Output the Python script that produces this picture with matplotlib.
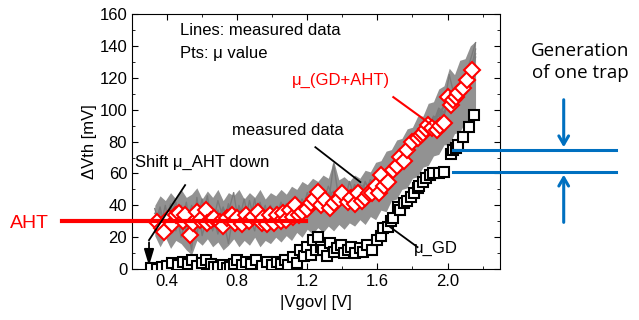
import matplotlib
matplotlib.use('Agg')
import matplotlib.pyplot as plt

plt.rcParams['font.family'] = ['Liberation Sans', 'DejaVu Sans']

# measured traces (gray), common x grid
x_meas = [0.33, 0.36, 0.39, 0.42, 0.45, 0.48, 0.51, 0.54, 0.57, 0.60, 0.63, 0.66, 0.69, 0.72, 0.75, 0.78,
          0.81, 0.84, 0.87, 0.90, 0.93, 0.96, 0.99, 1.02, 1.05, 1.08, 1.11, 1.14, 1.17, 1.20, 1.23, 1.26,
          1.29, 1.32, 1.35, 1.38, 1.41, 1.44, 1.47, 1.50, 1.53, 1.56, 1.59, 1.62, 1.65, 1.68, 1.71, 1.74,
          1.77, 1.80, 1.83, 1.86, 1.89, 1.92, 1.95, 1.98, 2.01, 2.04, 2.07, 2.10, 2.13, 2.16]
# spread of all traces (lower / upper edge of the gray band)
meas_lo = [21, 14, 20, 13, 18, 16, 12, 9, 18, 15, 19, 14, 17, 12, 15, 19, 14, 18, 15, 20, 14, 18, 16, 20,
           17, 21, 18, 23, 20, 25, 22, 26, 23, 27, 24, 28, 25, 29, 27, 31, 28, 33, 31, 37, 36, 43, 44, 50,
           51, 57, 58, 64, 65, 71, 72, 78, 78, 85, 86, 92, 93, 100]
meas_hi = [40, 46, 43, 48, 44, 50, 45, 47, 51, 44, 49, 45, 50, 43, 48, 46, 50, 44, 48, 45, 50, 44, 48, 46,
           50, 47, 52, 50, 55, 53, 57, 55, 59, 57, 68, 56, 58, 55, 59, 57, 62, 61, 67, 68, 74, 75, 81, 82,
           88, 89, 96, 96, 104, 105, 113, 115, 126, 122, 131, 132, 140, 143]
meas_1 = [38, 25, 40, 22, 36, 28, 42, 18, 34, 30, 46, 24, 37, 27, 41, 29, 35, 26, 43, 30, 38, 25, 40, 31,
          42, 33, 39, 45, 36, 48, 40, 50, 42, 52, 44, 47, 40, 55, 45, 52, 47, 56, 50, 62, 58, 66, 61, 72,
          70, 80, 77, 88, 84, 95, 92, 104, 100, 112, 108, 121, 118, 133]
meas_2 = [24, 36, 28, 41, 26, 38, 23, 37, 30, 44, 27, 35, 22, 38, 33, 26, 40, 31, 28, 44, 26, 37, 29, 39,
          28, 41, 34, 36, 44, 38, 46, 39, 49, 41, 47, 50, 43, 46, 52, 45, 55, 48, 58, 55, 63, 59, 70, 66,
          78, 74, 86, 82, 93, 89, 100, 96, 108, 104, 118, 114, 128, 124]
meas_3 = [32, 28, 35, 33, 24, 40, 30, 12, 45, 21, 34, 38, 29, 24, 36, 48, 27, 37, 33, 24, 42, 30, 35, 28,
          38, 30, 42, 33, 40, 44, 37, 48, 41, 46, 49, 42, 52, 44, 50, 46, 54, 51, 52, 59, 56, 64, 63, 69,
          73, 77, 81, 85, 88, 96, 94, 99, 104, 110, 113, 119, 123, 138]
meas_4 = [27, 39, 24, 34, 42, 25, 36, 32, 22, 38, 33, 28, 43, 32, 16, 36, 30, 44, 27, 35, 31, 40, 25, 37,
          33, 38, 31, 44, 35, 39, 47, 38, 45, 40, 66, 44, 48, 42, 53, 49, 47, 56, 53, 54, 62, 60, 68, 70,
          73, 79, 80, 86, 86, 95, 96, 102, 122, 108, 114, 118, 126, 128]
meas_5 = [35, 31, 27, 38, 31, 35, 27, 40, 33, 28, 26, 37, 31, 39, 28, 33, 38, 29, 36, 30, 34, 27, 38, 30,
          31, 36, 40, 38, 42, 36, 41, 45, 40, 48, 43, 46, 49, 45, 47, 52, 49, 54, 57, 52, 58, 62, 66, 71,
          74, 76, 84, 83, 92, 90, 98, 102, 103, 110, 116, 122, 125, 135]
meas_6 = [30, 22, 33, 29, 38, 20, 33, 28, 36, 34, 25, 32, 35, 30, 39, 25, 33, 36, 30, 38, 29, 34, 33, 27,
          36, 29, 38, 41, 37, 43, 40, 44, 46, 43, 42, 48, 45, 50, 44, 53, 51, 50, 55, 58, 55, 62, 65, 67,
          77, 78, 83, 89, 90, 92, 101, 98, 106, 112, 117, 121, 131, 142]

# mu_(GD+AHT) diamonds
x_tot = [0.34, 0.37, 0.38, 0.41, 0.43, 0.45, 0.47, 0.49, 0.50, 0.53, 0.55, 0.57, 0.59, 0.62, 0.63, 0.65,
         0.67, 0.70, 0.72, 0.74, 0.77, 0.79, 0.80, 0.83, 0.85, 0.87, 0.89, 0.92, 0.94, 0.95, 0.97, 0.99,
         1.01, 1.03, 1.05, 1.06, 1.08, 1.10, 1.12, 1.13, 1.15, 1.17, 1.20, 1.22, 1.24, 1.26, 1.28, 1.30,
         1.33, 1.35, 1.38, 1.40, 1.43, 1.45, 1.47, 1.49, 1.51, 1.53, 1.55, 1.57, 1.59, 1.61, 1.62, 1.64,
         1.66, 1.69, 1.71, 1.73, 1.75, 1.77, 1.80, 1.83, 1.85, 1.86, 1.88, 1.89, 1.91, 1.94, 1.96, 1.98,
         2.00, 2.02, 2.03, 2.05, 2.06, 2.09, 2.11, 2.14]
y_tot = [29.5, 26, 23.2, 32, 28, 33.9, 35.1, 30, 33.9, 21.3, 29, 35.8, 31, 37, 29, 30.7,
         32, 29.5, 27, 32, 33.9, 29, 32, 28, 33.9, 30, 32.6, 35.8, 29, 32, 28, 33.9,
         29, 33.9, 30, 35.1, 31, 37, 33, 40.2, 34, 35.8, 38, 41.4, 44, 48.3, 40, 43.3,
         38.5, 41.4, 44, 47.7, 42, 44.5, 41, 47.7, 43, 44.5, 48, 47.7, 52, 47.7, 59, 52,
         54.6, 62.1, 65, 70.3, 68, 74.7, 79.7, 82.2, 84, 85.3, 88, 90.3, 88.5, 87.2, 90, 91.6,
         107.9, 103, 106, 108, 110.4, 113.6, 118.6, 124.8]

# mu_GD squares
x_gd = [0.31, 0.34, 0.37, 0.40, 0.43, 0.46, 0.49, 0.52, 0.54, 0.57, 0.60, 0.62, 0.65, 0.67, 0.69, 0.72,
        0.74, 0.76, 0.78, 0.80, 0.83, 0.85, 0.88, 0.91, 0.94, 0.97, 1.00, 1.03, 1.05, 1.07, 1.09, 1.12,
        1.14, 1.16, 1.18, 1.20, 1.22, 1.23, 1.25, 1.26, 1.28, 1.29, 1.31, 1.33, 1.35, 1.37, 1.39, 1.41,
        1.43, 1.45, 1.47, 1.50, 1.52, 1.54, 1.57, 1.60, 1.62, 1.63, 1.66, 1.68, 1.69, 1.72, 1.73, 1.75,
        1.77, 1.79, 1.81, 1.83, 1.84, 1.86, 1.88, 1.90, 1.92, 1.95, 1.98, 2.02, 2.03, 2.05, 2.06, 2.09,
        2.12, 2.15]
y_gd = [0.6, 0, 1.3, 2, 3.8, 2.5, 4.4, 3, 5.6, 2, 4, 5.6, 3, 1.5, 1.3, 2.5,
        0.8, 1.3, 3.5, 5.6, 2.5, 4.4, 3, 5.6, 2, 4.4, 2.5, 4.4, 3, 5.6, 2.8, 7.5,
        4, 11.9, 8, 13.8, 9, 18.2, 12, 20, 14, 12, 8, 16.3, 11, 13, 15.1, 10,
        12, 13.8, 10, 13.2, 11, 15.1, 12, 18.2, 21, 25.7, 26.3, 30, 32, 38.9, 37, 41.4,
        43, 45.2, 48, 50.8, 52, 54.6, 57, 59, 60, 60.2, 61, 72, 74.7, 76, 77.8, 82.8,
        89, 96.6]

aht_level = 30
trap_levels = [74.7, 61]

fig = plt.figure(figsize=(6.39, 3.2), dpi=100)
ax = fig.add_axes([0.2066, 0.159, 0.576, 0.797])

ax.fill_between(x_meas, meas_lo, meas_hi, color='#929292', lw=0, zorder=1)
for m in [meas_1, meas_2, meas_3, meas_4, meas_5, meas_6]:
    ax.plot(x_meas, m, color='#7a7a7a', lw=1.0, zorder=1)

ax.plot(x_gd, y_gd, ls='none', marker='s', ms=7.5, mfc='white', mec='black', mew=1.5, zorder=3)
ax.plot(x_tot, y_tot, ls='none', marker='D', ms=7.8, mfc='white', mec='red', mew=1.5, zorder=4)

# AHT level line
ax.plot([-0.2, 1.19], [aht_level, aht_level], color='red', lw=3, clip_on=False, zorder=5)
fig.text(10 / 639, 1 - 223 / 320, 'AHT', color='red', fontsize=14, va='center', ha='left')

# annotations
ax.plot([1.691, 1.903], [107.9, 91], color='red', lw=1.5, zorder=6)
ax.plot([1.246, 1.503], [76.5, 54.6], color='black', lw=1.3, zorder=6)
ax.plot([1.829, 1.674], [13.8, 26.3], color='black', lw=1.3, zorder=6)
ax.plot([0.503, 0.297], [52.7, 18.2], color='black', lw=1.3, zorder=6)
ax.annotate('', xy=(0.297, 0.3), xytext=(0.297, 18.5),
            arrowprops=dict(arrowstyle='-|>,head_length=1.0,head_width=0.3', color='black', lw=1.3),
            zorder=6)

ax.text(0.474, 150, 'Lines: measured data', fontsize=12, va='center')
ax.text(0.474, 135.5, 'Pts: \u03bc value', fontsize=12, va='center')
ax.text(1.114, 118.6, '\u03bc_(GD+AHT)', fontsize=12, va='center', color='red')
ax.text(0.771, 87.2, 'measured data', fontsize=12, va='center')
ax.text(0.217, 67.1, 'Shift \u03bc_AHT down', fontsize=12, va='center')
ax.text(1.806, 13.2, '\u03bc_GD', fontsize=12, va='center')

# one-trap step marker
blue = '#0070C0'
for lv in trap_levels:
    ax.plot([2.03, 2.96], [lv, lv], color=blue, lw=2.2, clip_on=False, zorder=6)
ax.annotate('', xy=(2.663, trap_levels[0]), xytext=(2.663, 108),
            arrowprops=dict(arrowstyle='->,head_length=0.6,head_width=0.35', color=blue, lw=2.2),
            annotation_clip=False)
ax.annotate('', xy=(2.663, trap_levels[1]), xytext=(2.663, 27.6),
            arrowprops=dict(arrowstyle='->,head_length=0.6,head_width=0.35', color=blue, lw=2.2),
            annotation_clip=False)
fig.text(580 / 639, 1 - 62 / 320, 'Generation\nof one trap', fontsize=13.5, ha='center', va='center',
         family='Open Sans', linespacing=1.25)

ax.set_xlim(0.2, 2.3)
ax.set_ylim(0, 160)
ax.set_xticks([0.4, 0.8, 1.2, 1.6, 2.0])
ax.set_xticks([0.2, 0.6, 1.0, 1.4, 1.8, 2.2], minor=True)
ax.set_yticks(range(0, 161, 20))
ax.set_yticks(range(10, 160, 20), minor=True)
ax.tick_params(which='both', direction='in', top=True, right=True, labelsize=12)
ax.tick_params(which='major', length=4)
ax.tick_params(which='minor', length=2.5)
ax.set_xlabel('|Vgov| [V]', fontsize=12, labelpad=4)
ax.set_ylabel('\u0394Vth [mV]', fontsize=12, labelpad=2)

fig.savefig('out.png', dpi=100)
